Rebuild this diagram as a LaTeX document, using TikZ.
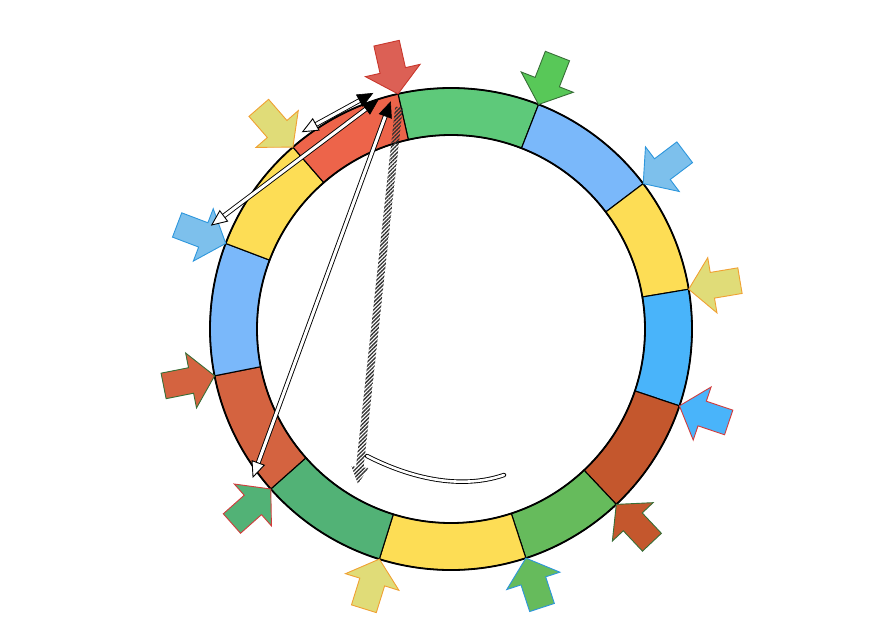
\documentclass[tikz,border=0pt]{standalone}
\usetikzlibrary{calc,patterns.meta}
\definecolor{segGreenA}{RGB}{94,201,122}
\definecolor{segLBlue}{RGB}{122,184,250}
\definecolor{segYellow}{RGB}{253,221,85}
\definecolor{segBlue}{RGB}{73,180,250}
\definecolor{segRustA}{RGB}{196,87,45}
\definecolor{segGreenB}{RGB}{102,187,92}
\definecolor{segGreenC}{RGB}{82,178,118}
\definecolor{segRustB}{RGB}{212,99,64}
\definecolor{segRed}{RGB}{237,100,74}
\definecolor{arRed}{RGB}{220,96,85}
\definecolor{arRedD}{RGB}{200,55,45}
\definecolor{arGreen}{RGB}{88,200,88}
\definecolor{arGreenD}{RGB}{55,110,55}
\definecolor{arLBlue}{RGB}{125,192,236}
\definecolor{arBlueD}{RGB}{45,150,220}
\definecolor{arKhaki}{RGB}{224,220,120}
\definecolor{arOrange}{RGB}{240,160,50}
\definecolor{arRedLine}{RGB}{210,60,60}
\newcommand\mkhead[3]{%
  \filldraw[#3] (#1) -- ($(#1)!15pt!(#2)!6.5pt!90:(#2)$) -- ($(#1)!15pt!(#2)!6.5pt!-90:(#2)$) -- cycle;}
\tikzset{
  segment/.style={draw=black,line width=1.1pt,line join=round},
  ringline/.style={draw=black,line width=1.8pt},
  blockarrow/.style={line width=0.9pt,line join=miter},
  dblline/.style={draw=black,line width=0.9pt,double=white,double distance=3pt},
  solidhead/.style={fill=black,draw=black,line width=0.6pt},
  openhead/.style={fill=white,draw=black,line width=0.9pt},
  hatch/.style={pattern={Lines[angle=45,distance=2.7pt,line width=1.35pt]},pattern color=black!80},
  curveline/.style={draw=black,line width=0.9pt,double=white,double distance=2.6pt,line cap=round}
}
\begin{document}
\begin{tikzpicture}[x=1pt,y=-1pt]
\useasboundingbox (0,0) rectangle (888,630);
\coordinate (c) at (451,329);
% ring segments
\foreach \a/\b/\col in {-102.7/-68.7/segGreenA,-68.7/-37.1/segLBlue,-37.1/-9.5/segYellow,
  -9.5/18.6/segBlue,18.6/46.7/segRustA,46.7/71.9/segGreenB,71.9/107.3/segYellow,
  107.3/138.4/segGreenC,138.4/168.8/segRustB,168.8/200.8/segLBlue,200.8/229/segYellow,229/257.3/segRed}{
  \filldraw[segment,fill=\col] ($(c)+(\a:241)$) arc[start angle=\a,end angle=\b,radius=241]
    -- ($(c)+(\b:194)$) arc[start angle=\b,end angle=\a,radius=194] -- cycle;
}
\draw[ringline] (c) circle[radius=241];
\draw[ringline] (c) circle[radius=194];
% block arrows
\foreach \t/\fc/\dc in {-102.7/arRed/arRedD,-68.7/arGreen/arGreenD,-37.1/arLBlue/arBlueD,
  -9.5/arKhaki/arOrange,18.6/segBlue/arRedLine,46.7/segRustA/arGreenD,71.9/segGreenB/arBlueD,
  107.3/arKhaki/arOrange,138.4/segGreenC/arRedLine,168.8/segRustB/arGreenD,
  200.8/arLBlue/arBlueD,229/arKhaki/arOrange}{
  \begin{scope}[shift={($(c)+(\t:241)$)},rotate={180-(\t)}]
    \filldraw[blockarrow,fill=\fc,draw=\dc] (0,0) -- (-24,28) -- (-24,13) -- (-52,13)
      -- (-52,-13) -- (-24,-13) -- (-24,-28) -- cycle;
  \end{scope}
}
% double-line arrows
\coordinate (a1o) at (302.7,131.7); \coordinate (a1s) at (372.7,93.3);
\coordinate (a2o) at (211.7,225);   \coordinate (a2s) at (378,100);
\coordinate (a3o) at (253,477);     \coordinate (a3s) at (390.5,102);
\foreach \o/\s in {a1o/a1s,a2o/a2s,a3o/a3s}{
  \draw[dblline] ($(\o)!9pt!(\s)$) -- ($(\s)!10pt!(\o)$);
  \mkhead{\o}{\s}{openhead}
  \mkhead{\s}{\o}{solidhead}
}
% hatched arrow
\coordinate (hT) at (358,484);
\coordinate (hS) at (399,107);
\coordinate (hB) at ($(hT)!17pt!(hS)$);
\fill[hatch] ($(hS)!3.8pt!-90:(hT)$) -- ($(hB)!3.8pt!-90:(hT)$) -- ($(hB)!8.5pt!-90:(hT)$)
  -- (hT) -- ($(hB)!8.5pt!90:(hT)$) -- ($(hB)!3.8pt!90:(hT)$) -- ($(hS)!3.8pt!90:(hT)$) -- cycle;
% curve
\coordinate (k1) at (367,456);
\coordinate (k2) at (504,475);
\draw[curveline] (k1) .. controls (410,478) and (460,490) .. (k2);
\end{tikzpicture}
\end{document}
